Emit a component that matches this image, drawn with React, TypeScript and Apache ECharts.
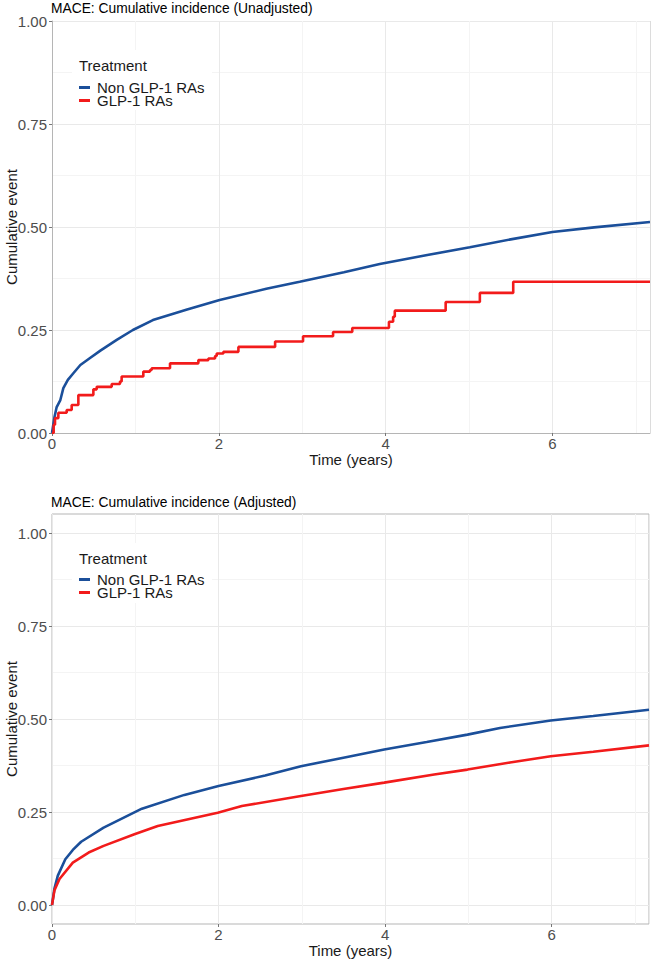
import React, { useEffect, useRef } from "react";
import * as echarts from "echarts";

// ---------- data ----------
const X_MAX = 7.17;
const legendNames = ["Non GLP-1 RAs", "GLP-1 RAs"];
const titles = ["MACE: Cumulative incidence (Unadjusted)", "MACE: Cumulative incidence (Adjusted)"];
const xTickLabels = [0, 2, 4, 6];
const yTickLabels = [0, 0.25, 0.5, 0.75, 1];

// Unadjusted
const unadjNonTime = [0, 0.03, 0.056, 0.1, 0.136, 0.19, 0.256, 0.34, 0.456, 0.58, 0.776, 0.97, 1.21, 1.62, 2.01, 2.57, 2.97, 3.5, 3.93, 4.5, 5.01, 5.5, 6.0, 6.5, 7.17];
const unadjNonVal = [0, 0.039, 0.063, 0.08, 0.109, 0.129, 0.145, 0.165, 0.182, 0.2, 0.226, 0.25, 0.274, 0.3, 0.323, 0.35, 0.367, 0.39, 0.41, 0.432, 0.451, 0.47, 0.488, 0.499, 0.512];
const unadjGlpTime = [0, 0.02, 0.036, 0.076, 0.176, 0.236, 0.316, 0.496, 0.536, 0.716, 0.815, 0.835, 1.095, 1.175, 1.195, 1.415, 1.755, 1.875, 1.955, 1.975, 2.055, 2.235, 2.675, 3.01, 3.37, 3.6, 4.04, 4.09, 4.11, 4.72, 5.13, 5.53, 7.17];
const unadjGlpVal = [0, 0.02, 0.036, 0.049, 0.056, 0.068, 0.092, 0.106, 0.112, 0.119, 0.125, 0.137, 0.149, 0.153, 0.157, 0.169, 0.177, 0.181, 0.187, 0.193, 0.197, 0.209, 0.222, 0.235, 0.245, 0.255, 0.27, 0.282, 0.297, 0.318, 0.34, 0.367, 0.367];

// Adjusted
const adjNonTime = [0, 0.03, 0.07, 0.16, 0.25, 0.35, 0.62, 1.08, 1.59, 2.0, 2.56, 2.99, 3.5, 3.99, 4.5, 4.99, 5.38, 5.99, 6.5, 7.17];
const adjNonVal = [0, 0.045, 0.079, 0.123, 0.148, 0.17, 0.208, 0.259, 0.296, 0.32, 0.348, 0.373, 0.396, 0.418, 0.438, 0.458, 0.476, 0.496, 0.508, 0.525];
const adjGlpTime = [0, 0.03, 0.09, 0.25, 0.44, 0.62, 0.99, 1.27, 1.99, 2.28, 2.99, 3.5, 3.99, 4.59, 4.99, 5.5, 5.99, 6.5, 7.17];
const adjGlpVal = [0, 0.04, 0.07, 0.114, 0.141, 0.159, 0.19, 0.2125, 0.248, 0.266, 0.293, 0.312, 0.329, 0.351, 0.364, 0.383, 0.4, 0.412, 0.429];

const zip = (t: number[], v: number[]) => t.map((x, i) => [x, v[i]]);

const BLUE = "#1B4F9A";
const RED = "#F21B1B";
const FONT = "'Liberation Sans', Arial, sans-serif";
const MAJOR = "#e9e9e9";
const MINOR = "#f4f4f4";
const AXIS_GRAY = "#b5b5b5";

export default function App() {
  const ref = useRef<HTMLDivElement>(null);
  useEffect(() => {
    if (!ref.current) return;
    const chart = echarts.init(ref.current, undefined, { renderer: "svg" });

    const labelAxisX = (gridIndex: number, withLine: boolean) => ({
      type: "value",
      gridIndex,
      min: 0,
      max: X_MAX,
      interval: 2,
      axisLine: { show: withLine, lineStyle: { color: AXIS_GRAY, width: 1 } },
      axisTick: { show: true, length: 3, lineStyle: { color: "#777" } },
      axisLabel: {
        show: true,
        fontSize: 15,
        color: "#4d4d4d",
        fontFamily: FONT,
        margin: 3,
        showMaxLabel: false,
        formatter: (v: number) => (xTickLabels.includes(v) ? String(v) : ""),
      },
      splitLine: { show: false },
      name: "Time (years)",
      nameLocation: "middle",
      nameGap: 19,
      nameMoveOverlap: false,
      nameTextStyle: { fontSize: 15, color: "#1a1a1a", fontFamily: FONT },
    });
    const gridAxisX = (gridIndex: number) => ({
      type: "value",
      gridIndex,
      min: 0,
      max: X_MAX,
      interval: 1,
      axisLine: { show: false },
      axisTick: { show: false },
      axisLabel: { show: false },
      splitLine: { show: true, lineStyle: { color: [MAJOR, MINOR], width: 1 } },
    });
    const labelAxisY = (gridIndex: number, withLine: boolean) => ({
      type: "value",
      gridIndex,
      min: 0,
      max: 1,
      interval: 0.25,
      axisLine: { show: withLine, lineStyle: { color: AXIS_GRAY, width: 1 } },
      axisTick: { show: true, length: 3, lineStyle: { color: "#777" } },
      axisLabel: {
        fontSize: 15,
        color: "#4d4d4d",
        fontFamily: FONT,
        margin: 5,
        formatter: (v: number) => (yTickLabels.includes(v) ? v.toFixed(2) : ""),
      },
      splitLine: { show: true, lineStyle: { color: MAJOR, width: 1 } },
      minorTick: { show: false, splitNumber: 2 },
      minorSplitLine: { show: true, lineStyle: { color: MINOR, width: 1 } },
      name: "Cumulative event",
      nameLocation: "middle",
      nameGap: 33,
      nameMoveOverlap: false,
      nameTextStyle: { fontSize: 15, color: "#1a1a1a", fontFamily: FONT },
    });

    const lineSeries = (name: string, color: string, xi: number, yi: number, data: number[][], step?: string) => ({
      type: "line",
      name,
      xAxisIndex: xi,
      yAxisIndex: yi,
      data,
      step: step || false,
      showSymbol: false,
      symbol: "none",
      smooth: false,
      lineStyle: { color, width: 2.6 },
      itemStyle: { color },
      z: 3,
    });

    const legendBlock = (top: number) => ({
      orient: "vertical",
      left: 79,
      top,
      padding: 0,
      itemGap: -2,
      itemWidth: 11,
      itemHeight: 3,
      icon: "rect",
      selectedMode: false,
      textStyle: { fontSize: 15, color: "#1a1a1a", fontFamily: FONT, lineHeight: 13, padding: [0, 0, 0, 2] },
      data: legendNames,
      z: 5,
    });

    const gridBase = { outerBoundsMode: "none", containLabel: false };

    chart.setOption({
      animation: false,
      backgroundColor: "#ffffff",
      title: [
        { text: titles[0], left: 51, top: 1, padding: 0, textStyle: { fontSize: 13.8, fontWeight: "normal", color: "#000", fontFamily: FONT } },
        { text: titles[1], left: 51, top: 495, padding: 0, textStyle: { fontSize: 13.8, fontWeight: "normal", color: "#000", fontFamily: FONT } },
      ],
      legend: [legendBlock(80), legendBlock(572)],
      grid: [
        { ...gridBase, left: 52, top: 21, width: 598, height: 412 },
        { ...gridBase, left: 52, top: 533, width: 597, height: 372 },
        { ...gridBase, left: 52, top: 514, width: 597, height: 410, show: true, borderColor: AXIS_GRAY, borderWidth: 1, backgroundColor: "transparent" },
      ],
      xAxis: [
        labelAxisX(0, true), // 0
        gridAxisX(0), // 1
        { type: "value", gridIndex: 1, min: 0, max: X_MAX, show: false }, // 2
        labelAxisX(2, false), // 3
        gridAxisX(2), // 4
      ],
      yAxis: [
        labelAxisY(0, true), // 0
        labelAxisY(1, false), // 1
        { type: "value", gridIndex: 2, min: 0, max: 1, show: false, splitLine: { show: false } }, // 2
      ],
      graphic: [
        { type: "line", shape: { x1: 650.5, y1: 21, x2: 650.5, y2: 433 }, style: { stroke: "#dcdcdc", lineWidth: 1 }, z: 1 },
        { type: "rect", shape: { x: 72, y: 50, width: 140, height: 60 }, style: { fill: "#ffffff" }, z: 1 },
        { type: "rect", shape: { x: 72, y: 543, width: 140, height: 60 }, style: { fill: "#ffffff" }, z: 1 },
        { type: "text", x: 79, y: 65, style: { text: "Treatment", fontSize: 15, fill: "#1a1a1a", fontFamily: FONT, verticalAlign: "middle" }, z: 5 },
        { type: "text", x: 79, y: 558, style: { text: "Treatment", fontSize: 15, fill: "#1a1a1a", fontFamily: FONT, verticalAlign: "middle" }, z: 5 },
      ],
      series: [
        lineSeries(legendNames[0], BLUE, 0, 0, zip(unadjNonTime, unadjNonVal)),
        lineSeries(legendNames[1], RED, 0, 0, zip(unadjGlpTime, unadjGlpVal), "end"),
        lineSeries(legendNames[0], BLUE, 2, 1, zip(adjNonTime, adjNonVal)),
        lineSeries(legendNames[1], RED, 2, 1, zip(adjGlpTime, adjGlpVal)),
      ],
    });
    return () => chart.dispose();
  }, []);
  return <div ref={ref} style={{ position: "absolute", left: 0, top: 0, width: 655, height: 961 }} />;
}
